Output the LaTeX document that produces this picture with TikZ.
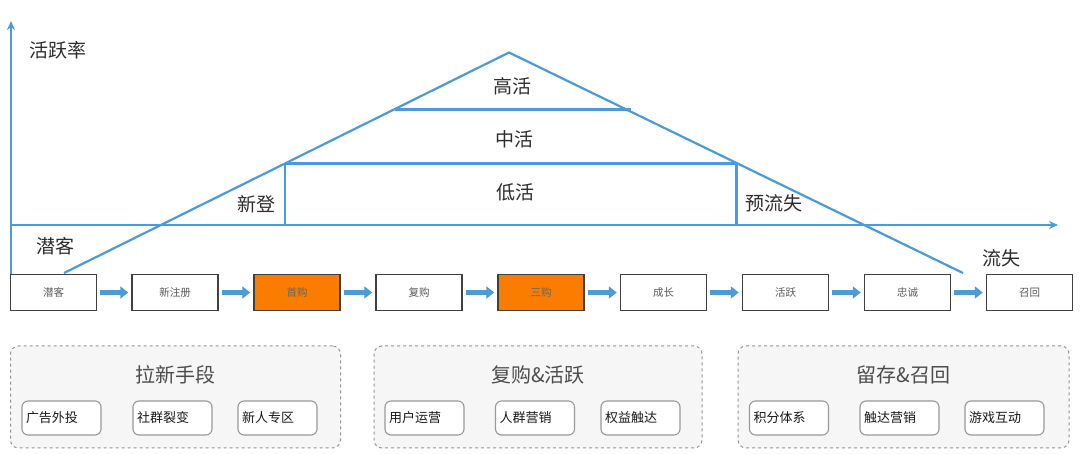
\documentclass[tikz,border=0pt]{standalone}
\usepackage{fontspec}
\setmainfont{Noto Sans CJK SC}
\newfontfamily\cjk{Noto Sans CJK SC}
\usetikzlibrary{arrows.meta}
\definecolor{lineblue}{RGB}{74,155,216}
\definecolor{txtdark}{RGB}{45,45,45}
\definecolor{boxorange}{RGB}{250,125,0}
\definecolor{grpfill}{RGB}{246,246,246}
\definecolor{grpborder}{RGB}{150,150,150}
\tikzset{
  axisline/.style={draw=lineblue, line width=2.2pt, -{Stealth[length=9pt,width=8pt]}},
  bluel/.style={draw=lineblue, line width=2.2pt},
  biglabel/.style={text=txtdark, font=\cjk\fontsize{19}{22}\selectfont, inner sep=0pt},
  stepbox/.style={draw=black!75, line width=1.5pt, fill=white, minimum width=86pt, minimum height=36pt, inner sep=0pt, text=black!65, font=\cjk\fontsize{10.5}{12}\selectfont},
  orangebox/.style={stepbox, fill=boxorange, text=black!60},
  flowarrow/.style={draw=lineblue, line width=4.5pt, -{Triangle[length=8pt,width=12pt]}},
  grpbox/.style={draw=grpborder, dashed, line width=1pt, fill=grpfill, rounded corners=8pt, minimum height=102pt, inner sep=0pt},
  grptitle/.style={text=black!70, font=\cjk\fontsize{20}{24}\selectfont, inner sep=0pt},
  itembox/.style={draw=black!40, line width=1.1pt, fill=white, rounded corners=6pt, minimum width=79pt, minimum height=34pt, inner sep=4pt, align=left, text width=71pt, text=black!90, font=\cjk\fontsize{13}{15}\selectfont}
}
\begin{document}
\begin{tikzpicture}[x=1pt,y=-1pt]
\useasboundingbox (0,0) rectangle (1080,454);
\fill[white] (0,0) rectangle (1080,454);
% coordinates of the chart
\coordinate (yb) at (11,274);
\coordinate (yt) at (11,21);
\coordinate (xl) at (11,225);
\coordinate (xr) at (1058,225);
\coordinate (apex) at (509,52.5);
\coordinate (lf) at (64,273);
\coordinate (rf) at (963,273);
\coordinate (hl) at (394.5,109.5);
\coordinate (hr) at (631,109.5);
\coordinate (ml) at (285,163.5);
\coordinate (mr) at (736.5,163.5);
\coordinate (vl) at (285,225);
\coordinate (vr) at (736.5,225);
% axes
\draw[axisline] (yb) -- (yt);
\draw[axisline] (xl) -- (xr);
% triangle
\draw[bluel] (lf) -- (apex) -- (rf);
\draw[bluel] (hl) -- (hr);
\draw[bluel] (ml) -- (mr);
\draw[bluel] (ml) -- (vl);
\draw[bluel] (mr) -- (vr);
% labels
\node[biglabel] (lrate) at (57.5,50) {活跃率};
\node[biglabel] (lqk) at (55,246.5) {潜客};
\node[biglabel] (lxd) at (256,204) {新登};
\node[biglabel] (lgh) at (512,86) {高活};
\node[biglabel] (lzh) at (514.5,139) {中活};
\node[biglabel] (ldh) at (515,192) {低活};
\node[biglabel] (lylsh) at (774,203) {预流失};
\node[biglabel] (llsh) at (1001,258) {流失};
% step boxes
\node[stepbox] (b1) at (53.5,292.5) {潜客};
\node[stepbox] (b2) at (175,292.5) {新注册};
\node[orangebox] (b3) at (297,292.5) {首购};
\node[stepbox] (b4) at (419,292.5) {复购};
\node[orangebox] (b5) at (541,292.5) {三购};
\node[stepbox] (b6) at (663.5,292.5) {成长};
\node[stepbox] (b7) at (785.5,292.5) {活跃};
\node[stepbox] (b8) at (907.5,292.5) {忠诚};
\node[stepbox] (b9) at (1029.5,292.5) {召回};
\foreach \a/\b in {b1/b2,b2/b3,b3/b4,b4/b5,b5/b6,b6/b7,b7/b8,b8/b9}{
  \draw[flowarrow] ([xshift=3pt]\a.east) -- ([xshift=-3pt]\b.west);
}
% groups
\node[grpbox, minimum width=330pt] (g1) at (175.5,397) {};
\node[grpbox, minimum width=328pt] (g2) at (538,397) {};
\node[grpbox, minimum width=331pt] (g3) at (903.5,397) {};
\node[grptitle] (t1) at (175.5,375) {拉新手段};
\node[grptitle] (t2) at (538,375) {复购\&活跃};
\node[grptitle] (t3) at (903.5,375) {留存\&召回};
\node[itembox] (i1) at (61.5,418) {广告外投};
\node[itembox] (i2) at (172.5,418) {社群裂变};
\node[itembox] (i3) at (277.5,418) {新人专区};
\node[itembox] (i4) at (424.5,418) {用户运营};
\node[itembox] (i5) at (535,418) {人群营销};
\node[itembox] (i6) at (640.5,418) {权益触达};
\node[itembox] (i7) at (789,418) {积分体系};
\node[itembox] (i8) at (899.5,418) {触达营销};
\node[itembox] (i9) at (1004.5,418) {游戏互动};
\end{tikzpicture}
\end{document}
